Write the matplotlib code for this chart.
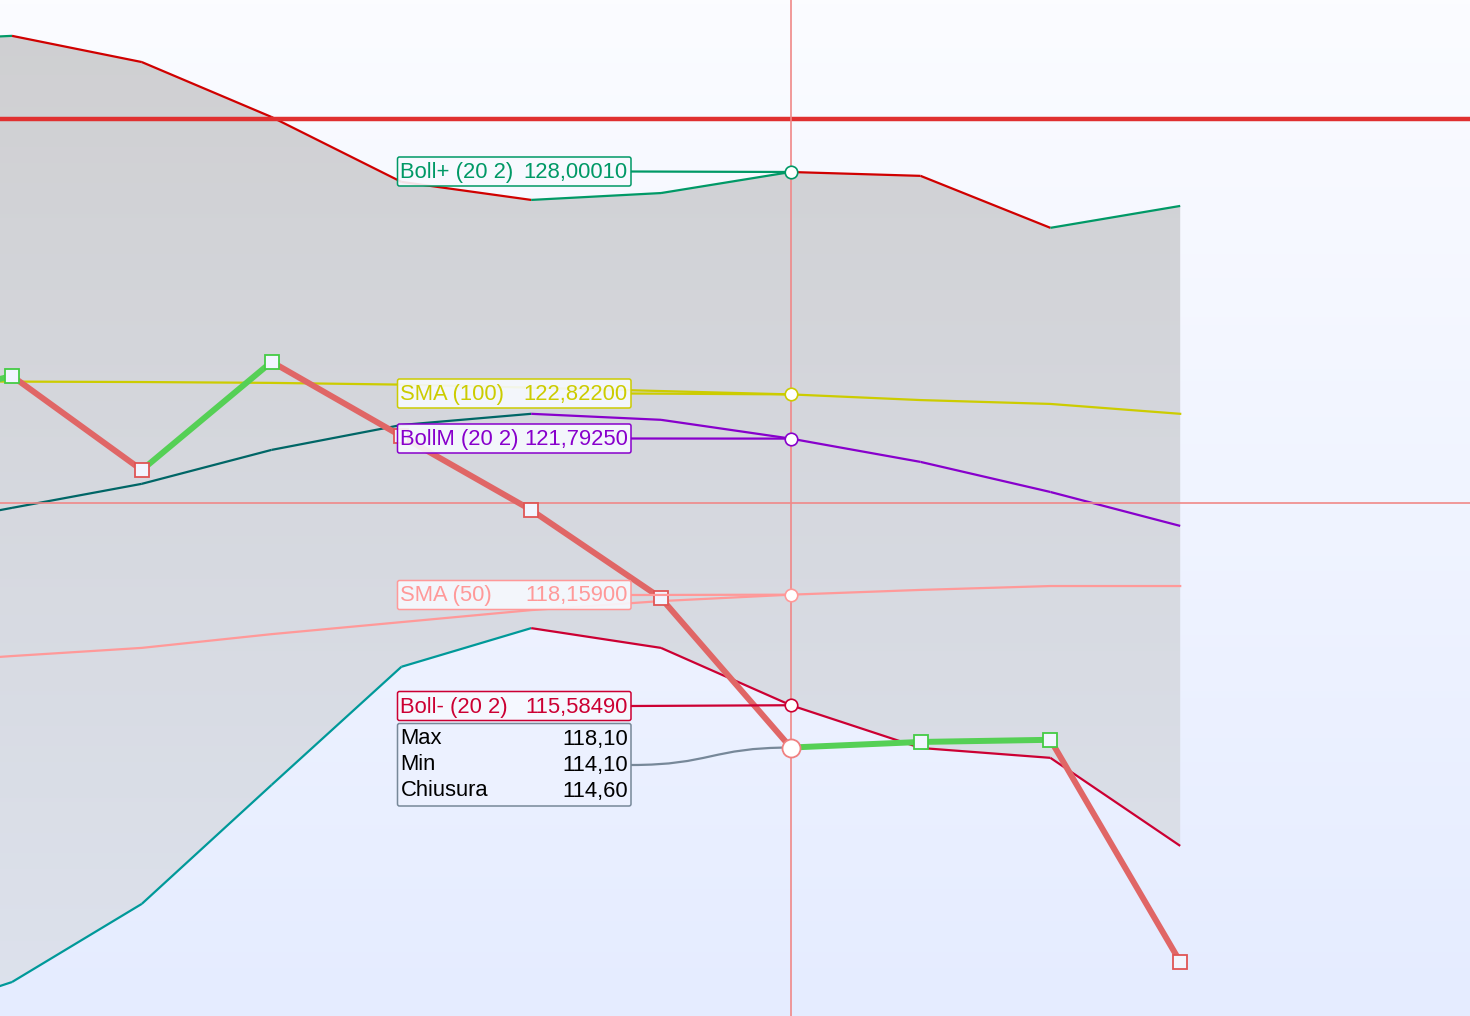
import numpy as np
import matplotlib
matplotlib.use("Agg")
import matplotlib.pyplot as plt
from matplotlib.path import Path
from matplotlib.patches import PathPatch, FancyBboxPatch

plt.rcParams['font.family'] = ['Liberation Sans', 'DejaVu Sans']

# ---------------- data ----------------
idx = [-1, 0, 1, 2, 3, 4, 5, 6, 7, 8, 9]
close = [122.51, 123.25, 121.06, 123.58, 121.85, 120.13, 118.08, 114.60, 114.73, 114.78, 109.61]
boll_up = [131.03, 131.17, 130.56, 129.28, 127.77, 127.35, 127.51, 128.0001, 127.91, 126.70, 127.21]
boll_mid = [119.62, 120.18, 120.74, 121.53, 122.11, 122.37, 122.23, 121.7925, 121.25, 120.55, 119.76]
boll_low = [108.14, 109.14, 110.96, 113.73, 116.48, 117.38, 116.92, 115.5849, 114.59, 114.36, 112.31]
sma100 = [123.13, 123.12, 123.11, 123.09, 123.05, 122.98, 122.90, 122.822, 122.69, 122.60, 122.37]
sma50 = [116.52, 116.73, 116.92, 117.24, 117.52, 117.80, 118.01, 118.159, 118.27, 118.36, 118.36]
hover_idx = 6
hover_max, hover_min, hover_close = 118.10, 114.10, 114.60
ref_line = 129.23
cross_y = 120.29

label_names = ["Boll+ (20 2)", "SMA (100)", "BollM (20 2)", "SMA (50)", "Boll- (20 2)"]
label_values = ["128,00010", "122,82200", "121,79250", "118,15900", "115,58490"]
tip_names = ["Max", "Min", "Chiusura"]
tip_values = ["118,10", "114,10", "114,60"]

# ---------------- figure ----------------
W, H = 1470, 1016
fig = plt.figure(figsize=(W / 100, H / 100), dpi=100)
ax = fig.add_axes([0, 0, 1, 1])
px_per_unit = 42.95
x0_px, step_px = 12.0, 129.8
xmin = -x0_px / step_px
xmax = (W - x0_px) / step_px
ytop = 128.0001 + 172 / px_per_unit
ybot = ytop - H / px_per_unit
ax.set_xlim(xmin, xmax)
ax.set_ylim(ybot, ytop)
ax.axis('off')

# background gradient
grad = np.linspace(0, 1, 256)[:, None]
top_c = np.array([251, 252, 255]) / 255
bot_c = np.array([229, 236, 255]) / 255
bg = top_c[None, None, :] * (1 - grad[..., None]) + bot_c[None, None, :] * grad[..., None]
bg = np.repeat(bg, 2, axis=1)
ax.imshow(bg, extent=[xmin, xmax, ybot, ytop], aspect='auto', zorder=0, origin='upper')

# band fill with gradient, clipped
poly = ax.fill_between(idx, boll_low, boll_up, color='none', lw=0, zorder=1)
ftop = np.array([207, 207, 209]) / 255
fbot = np.array([221, 226, 237]) / 255
fg = ftop[None, None, :] * (1 - grad[..., None]) + fbot[None, None, :] * grad[..., None]
fg = np.repeat(fg, 2, axis=1)
im = ax.imshow(fg, extent=[xmin, xmax, ybot, ytop], aspect='auto', zorder=1, origin='upper')
pp = poly.get_paths()[0]
clip = PathPatch(pp, transform=ax.transData, facecolor='none', edgecolor='none')
ax.add_patch(clip)
im.set_clip_path(clip)


def dir_line(xs, ys, up_c, down_c, lw, z):
    for i in range(len(xs) - 1):
        c = up_c if ys[i + 1] >= ys[i] else down_c
        ax.plot(xs[i:i + 2], ys[i:i + 2], color=c, lw=lw, zorder=z,
                solid_capstyle='butt', solid_joinstyle='miter')


dir_line(idx, boll_up, '#009966', '#d00000', 1.6, 3)
dir_line(idx, boll_low, '#009999', '#cc0033', 1.6, 3)
dir_line(idx, boll_mid, '#006666', '#8800cc', 1.6, 3)
ax.plot(idx, sma100, color='#cccc00', lw=1.6, zorder=3)
ax.plot(idx, sma50, color='#ff9999', lw=1.6, zorder=3)

# reference horizontal line
ax.axhline(ref_line, color='#e03030', lw=3.2, zorder=4)
# crosshair
ax.axhline(cross_y, color='#f08888', lw=1.2, zorder=4)
ax.axvline(hover_idx, color='#f08888', lw=1.2, zorder=4)

# close line
dir_line(idx, close, '#55d055', '#e06666', 4.3, 5)
for i in range(1, len(idx)):
    if idx[i] == hover_idx:
        continue
    c = '#44cc44' if close[i] >= close[i - 1] else '#e05555'
    ax.plot(idx[i], close[i], marker='s', ms=9.5, mfc='#f2f5ff', mec=c, mew=1.3, zorder=6)

# ---------------- overlay in pixel coordinates ----------------
ov = fig.add_axes([0, 0, 1, 1], facecolor='none')
ov.set_xlim(0, W)
ov.set_ylim(H, 0)
ov.axis('off')


def to_px(x, y):
    d = ax.transData.transform((x, y))
    return d[0], H - d[1]


FS = 15.8
label_colors = ['#009966', '#cccc00', '#8800cc', '#ff9999', '#cc0033']
label_series = [boll_up, sma100, boll_mid, sma50, boll_low]
label_centers = [171.5, 393.5, 438.5, 595, 706]
bx0, bx1 = 397.5, 631
bh = 29
k = idx.index(hover_idx)
for name, val, col, ser, cy in zip(label_names, label_values, label_colors, label_series, label_centers):
    px, py = to_px(hover_idx, ser[k])
    ov.plot([bx1, px], [cy, py], color=col, lw=1.6, zorder=7)
    box = FancyBboxPatch((bx0, cy - bh / 2), bx1 - bx0, bh,
                         boxstyle='round,pad=0,rounding_size=2',
                         facecolor=(0.97, 0.98, 1.0, 0.9), edgecolor=col, lw=1.1, zorder=8)
    ov.add_patch(box)
    ov.text(bx0 + 3, cy + 1, name, color=col, fontsize=FS, va='center', ha='left', zorder=9)
    ov.text(bx1 - 3, cy + 1, val, color=col, fontsize=FS, va='center', ha='right', zorder=9)
    ov.plot(px, py, marker='o', ms=9, mfc='white', mec=col, mew=1.2, zorder=10)

# tooltip box
ty0, ty1 = 723.5, 806
hx, hy = to_px(hover_idx, hover_close)
verts = [(bx1, 765), (bx1 + 80, 765), (hx - 80, hy), (hx, hy)]
conn = PathPatch(Path(verts, [Path.MOVETO, Path.CURVE4, Path.CURVE4, Path.CURVE4]),
                 facecolor='none', edgecolor='#778899', lw=1.6, zorder=7)
ov.add_patch(conn)
tbox = FancyBboxPatch((bx0, ty0), bx1 - bx0, ty1 - ty0,
                      boxstyle='round,pad=0,rounding_size=2',
                      facecolor=(0.93, 0.95, 1.0, 0.9), edgecolor='#778899', lw=1.1, zorder=8)
ov.add_patch(tbox)
for j, (n, v) in enumerate(zip(tip_names, tip_values)):
    yy = 739 + 26 * j
    ov.text(bx0 + 3, yy, n, color='black', fontsize=FS, va='center', ha='left', zorder=9)
    ov.text(bx1 - 3, yy, v, color='black', fontsize=FS, va='center', ha='right', zorder=9)
ov.plot(hx, hy, marker='o', ms=13, mfc='white', mec='#f08080', mew=1.3, zorder=10)

fig.savefig('out.png', dpi=100)
